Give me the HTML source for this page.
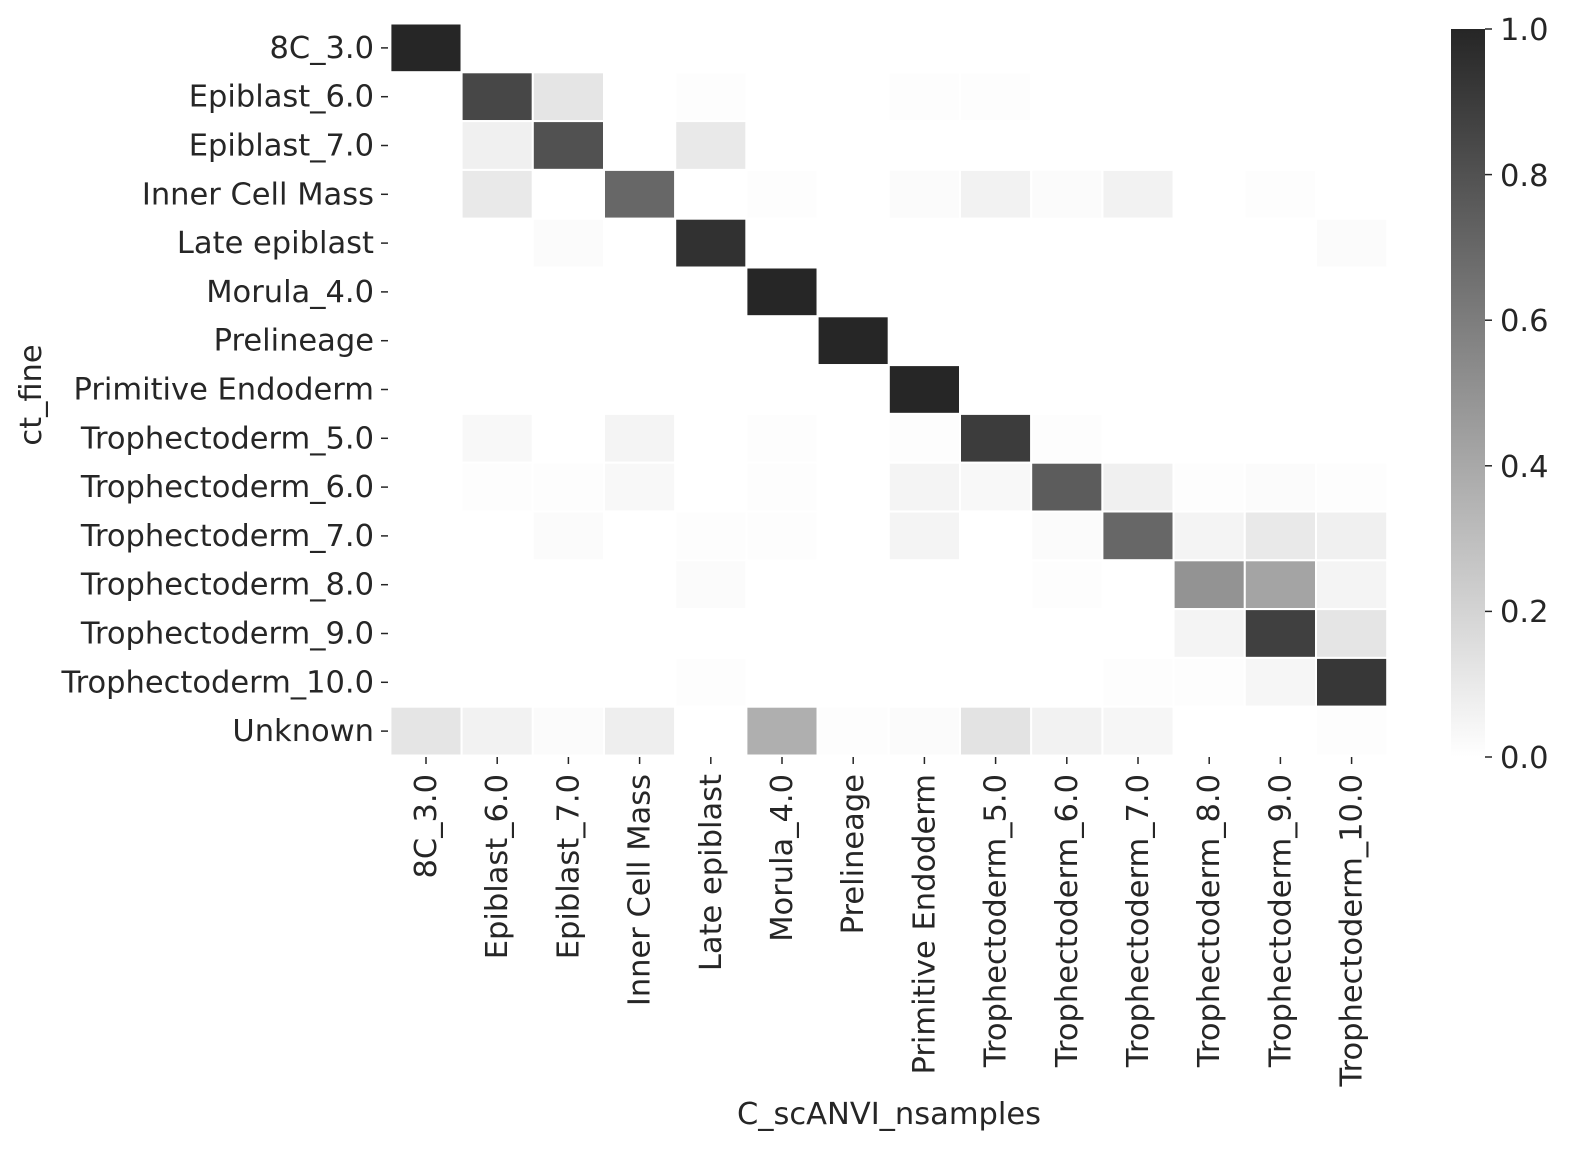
<!DOCTYPE html>
<html><head><meta charset="utf-8"><style>
html,body{margin:0;padding:0;background:#fff;}
svg text{font-family:"DejaVu Sans","Liberation Sans",sans-serif;fill:#262626;}
</style></head><body>
<svg id="s" width="1569" height="1147" xmlns="http://www.w3.org/2000/svg">
<defs><linearGradient id="g" x1="0" y1="1" x2="0" y2="0">
<stop offset="0" stop-color="#ffffff"/><stop offset="1" stop-color="#262626"/></linearGradient></defs>
<rect x="1451" y="29" width="34" height="728" fill="url(#g)"/>
<g font-size="30.5">
<line x1="1485" y1="29" x2="1492" y2="29" stroke="#262626" stroke-width="1.5"/><text x="1500" y="40">1.0</text>
<line x1="1485" y1="174.6" x2="1492" y2="174.6" stroke="#262626" stroke-width="1.5"/><text x="1500" y="186">0.8</text>
<line x1="1485" y1="320.2" x2="1492" y2="320.2" stroke="#262626" stroke-width="1.5"/><text x="1500" y="331">0.6</text>
<line x1="1485" y1="465.8" x2="1492" y2="465.8" stroke="#262626" stroke-width="1.5"/><text x="1500" y="477">0.4</text>
<line x1="1485" y1="611.4" x2="1492" y2="611.4" stroke="#262626" stroke-width="1.5"/><text x="1500" y="622">0.2</text>
<line x1="1485" y1="757" x2="1492" y2="757" stroke="#262626" stroke-width="1.5"/><text x="1500" y="768">0.0</text>
</g>
<text x="41" y="395" font-size="30.5" text-anchor="middle" transform="rotate(-90 41 395)">ct_fine</text>
<text x="889" y="1124" font-size="30.5" text-anchor="middle">C_scANVI_nsamples</text>
<g id="cells"></g>
</svg>
<script>
const labels=["8C_3.0","Epiblast_6.0","Epiblast_7.0","Inner Cell Mass","Late epiblast","Morula_4.0","Prelineage","Primitive Endoderm","Trophectoderm_5.0","Trophectoderm_6.0","Trophectoderm_7.0","Trophectoderm_8.0","Trophectoderm_9.0","Trophectoderm_10.0"];
const rows=labels.concat(["Unknown"]);
const V={0:{0:1},1:{1:.85,2:.12,4:.01,7:.01,8:.01},2:{1:.07,2:.8,4:.1},3:{1:.1,3:.7,5:.01,7:.02,8:.06,9:.02,10:.06,12:.01},
4:{2:.02,4:.95,13:.02},5:{5:1},6:{6:1},7:{7:1},8:{1:.03,3:.05,5:.01,7:.01,8:.9,9:.01},
9:{1:.01,2:.01,3:.03,5:.01,7:.05,8:.03,9:.75,10:.07,11:.01,12:.02,13:.01},
10:{2:.02,4:.01,5:.01,7:.05,9:.02,10:.7,11:.05,12:.1,13:.07},11:{4:.02,9:.01,11:.5,12:.42,13:.05},
12:{11:.05,12:.88,13:.12},13:{4:.01,10:.01,11:.01,12:.04,13:.92},
14:{0:.12,1:.06,2:.02,3:.08,5:.37,6:.01,7:.02,8:.13,9:.06,10:.04,13:.01}};
const L=390.4,T=23.5,W=71.2,H=48.8;
let h="";
for(let r=0;r<15;r++){for(let c=0;c<14;c++){const v=(V[r][c]||0);const g=Math.round(255-v*217);
h+=`<rect x="${L+c*W}" y="${T+r*H}" width="${W}" height="${H}" fill="rgb(${g},${g},${g})" stroke="#fff" stroke-width="2"/>`;}
const y=T+r*H+H/2;
h+=`<line x1="381" y1="${y}" x2="388" y2="${y}" stroke="#262626" stroke-width="1.5"/><text x="374" y="${y+10}" font-size="30.5" text-anchor="end">${rows[r]}</text>`;}
for(let c=0;c<14;c++){const x=L+c*W+W/2;
h+=`<line x1="${x}" y1="757" x2="${x}" y2="764" stroke="#262626" stroke-width="1.5"/><text x="${x+10}" y="774" font-size="30.5" text-anchor="end" transform="rotate(-90 ${x+10} 774)">${labels[c]}</text>`;}
document.getElementById("cells").innerHTML=h;
</script>
</body></html>
